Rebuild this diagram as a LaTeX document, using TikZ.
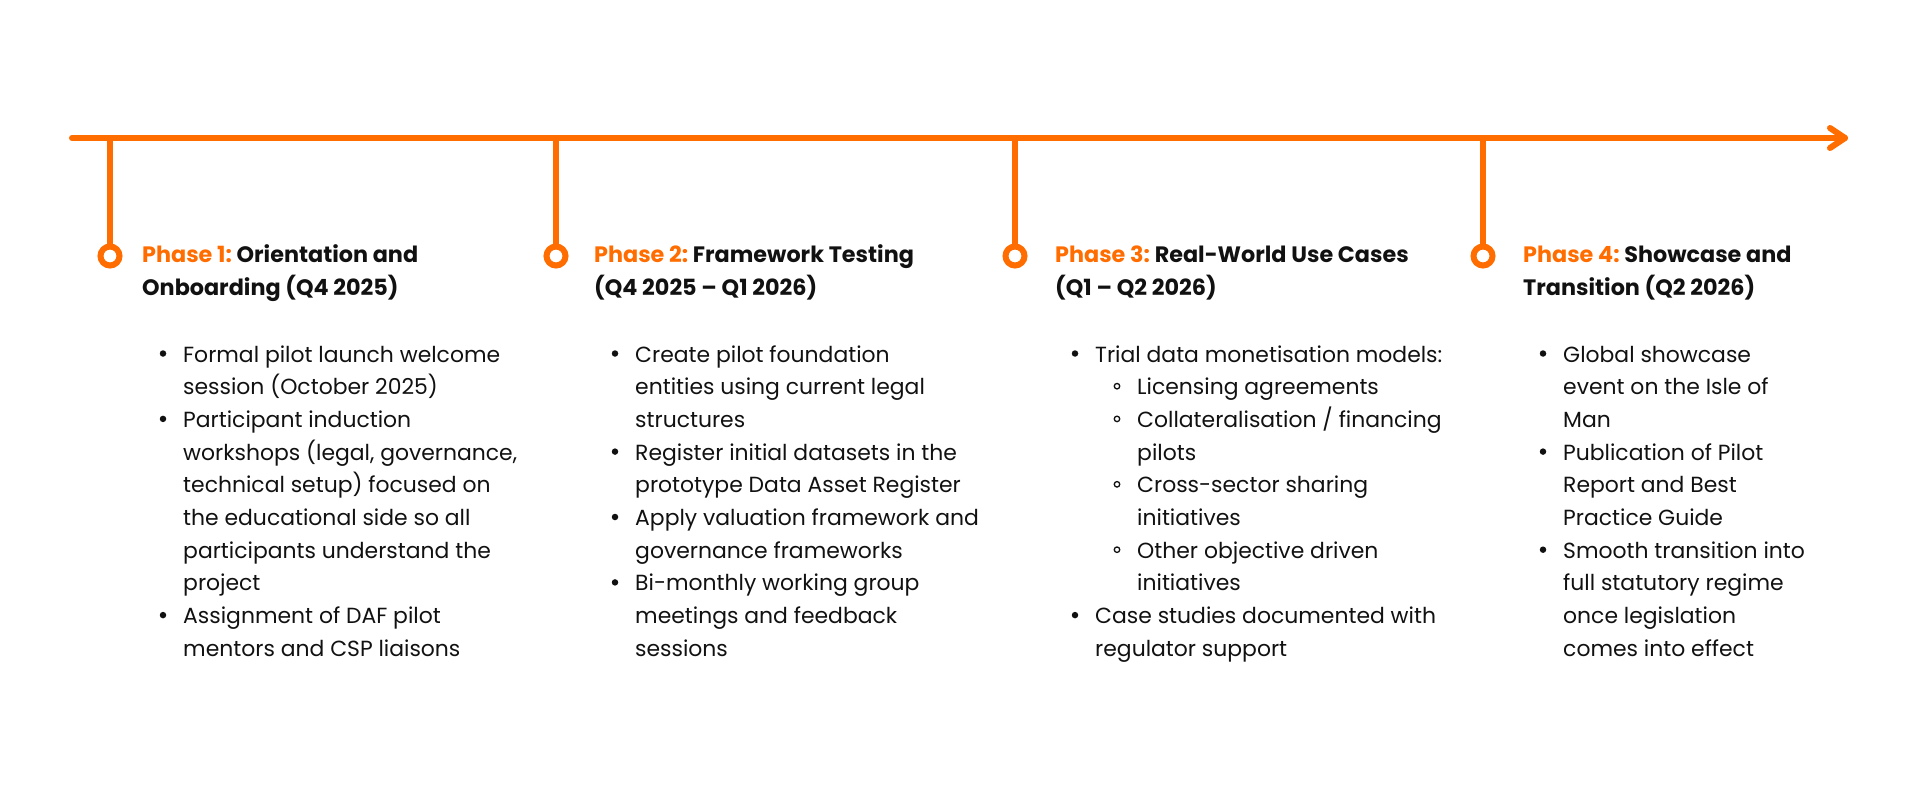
\documentclass[tikz,border=0pt]{standalone}
\usepackage{fontspec}
\setmainfont{Poppins}
\definecolor{brand}{RGB}{255,108,0}
\definecolor{ink}{RGB}{17,17,17}
\tikzset{
  axis/.style={brand, line width=6pt, line cap=round, line join=round},
  milestone/.style={circle, draw=brand, line width=6pt, fill=white, minimum size=19pt, inner sep=0pt},
  titletext/.style={anchor=base west, inner sep=0pt, text=ink, font=\fontsize{22.3}{33}\selectfont\bfseries},
  body/.style={anchor=base west, inner sep=0pt, text=ink, font=\fontsize{21.9}{33}\selectfont},
  dotb/.style={circle, fill=ink, minimum size=6.5pt, inner sep=0pt},
  ringb/.style={circle, draw=ink, line width=1.3pt, minimum size=5.5pt, inner sep=0pt},
}
\newcommand\bodyline[4]{\node[body] (#1) at (#2,{362+32.7*#3}) {#4};}
\newcommand\dotline[3]{\node[dotb] (#1) at (#2,{353.5+32.7*#3}) {};}
\newcommand\ringline[3]{\node[ringb] (#1) at (#2,{353.5+32.7*#3}) {};}
\newcommand\phasetitle[5]{%
  \node[titletext] (#1a) at (#2,262) {\textcolor{brand}{#3}~#4};
  \node[titletext] (#1b) at (#2,295) {#5};}
\begin{document}
\begin{tikzpicture}[x=1pt,y=-1pt]
\useasboundingbox (0,0) rectangle (1920,800);
% axis
\coordinate (start) at (72,138);
\coordinate (tip) at (1845,138);
\draw[axis] (start) -- (tip);
\draw[axis] (tip) ++(-15,-10) -- (tip) -- ++(-15,10);
% milestones
\foreach \i/\x in {1/110,2/556,3/1015,4/1483}{
  \coordinate (t\i) at (\x,138);
  \node[milestone] (m\i) at (\x,256) {};
  \draw[axis, line cap=butt] (t\i) -- (m\i.north);
}
% titles
\phasetitle{p1}{142}{Phase 1:}{Orientation and}{Onboarding (Q4 2025)}
\phasetitle{p2}{594}{Phase 2:}{Framework Testing}{(Q4 2025 – Q1 2026)}
\phasetitle{p3}{1055}{Phase 3:}{Real-World Use Cases}{(Q1 – Q2 2026)}
\phasetitle{p4}{1523}{Phase 4:}{Showcase and}{Transition (Q2 2026)}
% phase 1
\dotline{a0}{163}{0}\bodyline{a0t}{183}{0}{Formal pilot launch welcome}
\bodyline{a1t}{183}{1}{session (October 2025)}
\dotline{a2}{163}{2}\bodyline{a2t}{183}{2}{Participant induction}
\bodyline{a3t}{183}{3}{workshops (legal, governance,}
\bodyline{a4t}{183}{4}{technical setup) focused on}
\bodyline{a5t}{183}{5}{the educational side so all}
\bodyline{a6t}{183}{6}{participants understand the}
\bodyline{a7t}{183}{7}{project}
\dotline{a8}{163}{8}\bodyline{a8t}{183}{8}{Assignment of DAF pilot}
\bodyline{a9t}{183}{9}{mentors and CSP liaisons}
% phase 2
\dotline{b0}{615}{0}\bodyline{b0t}{635}{0}{Create pilot foundation}
\bodyline{b1t}{635}{1}{entities using current legal}
\bodyline{b2t}{635}{2}{structures}
\dotline{b3}{615}{3}\bodyline{b3t}{635}{3}{Register initial datasets in the}
\bodyline{b4t}{635}{4}{prototype Data Asset Register}
\dotline{b5}{615}{5}\bodyline{b5t}{635}{5}{Apply valuation framework and}
\bodyline{b6t}{635}{6}{governance frameworks}
\dotline{b7}{615}{7}\bodyline{b7t}{635}{7}{Bi-monthly working group}
\bodyline{b8t}{635}{8}{meetings and feedback}
\bodyline{b9t}{635}{9}{sessions}
% phase 3
\dotline{c0}{1075}{0}\bodyline{c0t}{1095}{0}{Trial data monetisation models:}
\ringline{c1}{1117}{1}\bodyline{c1t}{1137}{1}{Licensing agreements}
\ringline{c2}{1117}{2}\bodyline{c2t}{1137}{2}{Collateralisation / financing}
\bodyline{c3t}{1137}{3}{pilots}
\ringline{c4}{1117}{4}\bodyline{c4t}{1137}{4}{Cross-sector sharing}
\bodyline{c5t}{1137}{5}{initiatives}
\ringline{c6}{1117}{6}\bodyline{c6t}{1137}{6}{Other objective driven}
\bodyline{c7t}{1137}{7}{initiatives}
\dotline{c8}{1075}{8}\bodyline{c8t}{1095}{8}{Case studies documented with}
\bodyline{c9t}{1095}{9}{regulator support}
% phase 4
\dotline{d0}{1543}{0}\bodyline{d0t}{1563}{0}{Global showcase}
\bodyline{d1t}{1563}{1}{event on the Isle of}
\bodyline{d2t}{1563}{2}{Man}
\dotline{d3}{1543}{3}\bodyline{d3t}{1563}{3}{Publication of Pilot}
\bodyline{d4t}{1563}{4}{Report and Best}
\bodyline{d5t}{1563}{5}{Practice Guide}
\dotline{d6}{1543}{6}\bodyline{d6t}{1563}{6}{Smooth transition into}
\bodyline{d7t}{1563}{7}{full statutory regime}
\bodyline{d8t}{1563}{8}{once legislation}
\bodyline{d9t}{1563}{9}{comes into effect}
\end{tikzpicture}
\end{document}
